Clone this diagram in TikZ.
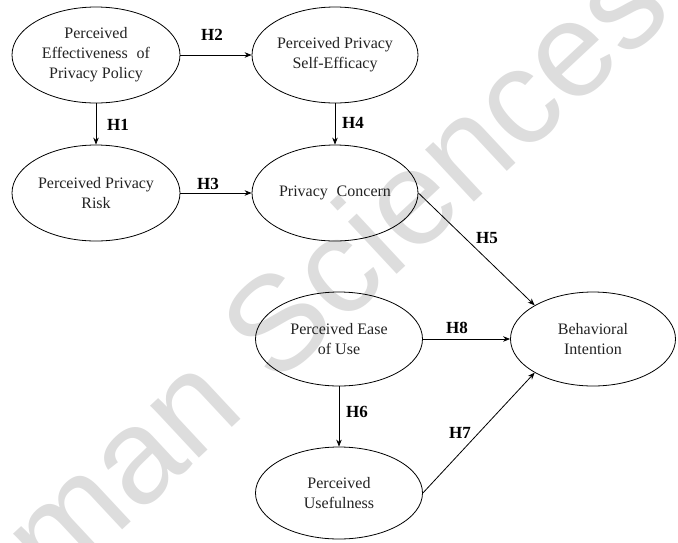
\documentclass[tikz,border=0pt]{standalone}
\usepackage{fontspec}
\setmainfont{Liberation Serif}
\newfontfamily\wmfont{Liberation Sans}
\usetikzlibrary{shapes.geometric,arrows.meta}
\definecolor{wmgray}{HTML}{DDDDDD}
\definecolor{txt}{HTML}{222222}
\tikzset{
  construct/.style={ellipse, draw=black, line width=0.8pt, inner sep=0pt,
    minimum width=167pt, minimum height=95pt, align=center, text=txt,
    font=\fontsize{16}{20}\selectfont},
  link/.style={line width=0.8pt, -{Stealth[length=7pt,width=5.5pt]}},
  hyp/.style={font=\fontsize{17}{17}\selectfont\bfseries, text=black, inner sep=0pt},
  watermark/.style={text=wmgray, font=\wmfont\fontsize{135}{135}\selectfont, inner sep=0pt}
}
\begin{document}
\begin{tikzpicture}[x=1pt,y=-1pt]
\useasboundingbox (0,0) rectangle (678,542);
\node[watermark, rotate=43] (wm) at (333,268) {man Sciences};

\node[construct, minimum width=168pt, minimum height=96pt] (peff) at (96,55) {Perceived\\Effectiveness\hspace{0.3em} of\\Privacy Policy};
\node[construct, minimum width=166pt, minimum height=96pt] (pse) at (335,55) {Perceived Privacy\\Self-Efficacy};
\node[construct, minimum width=168pt, minimum height=96pt] (risk) at (96,193) {Perceived Privacy\\Risk};
\node[construct, minimum width=166pt, minimum height=96pt] (pc) at (335,193) {Privacy\hspace{0.3em} Concern};
\node[construct, minimum height=94pt] (peou) at (339,339) {Perceived Ease\\of Use};
\node[construct, minimum width=165pt, minimum height=94pt] (bi) at (593,339) {Behavioral\\Intention};
\node[construct, minimum height=92pt] (pu) at (339,493) {Perceived\\Usefulness};

\draw[link] (peff.south) -- (risk.north);
\draw[link] (peff.east) -- (pse.west);
\draw[link] (risk.east) -- (pc.west);
\draw[link] (pse.south) -- (pc.north);
\draw[link] (pc.east) -- (bi.150);
\draw[link] (peou.south) -- (pu.north);
\draw[link] (pu.east) -- (bi.210);
\draw[link] (peou.east) -- (bi.west);

\node[hyp] (h1) at (118,125) {H1};
\node[hyp] (h2) at (212,35) {H2};
\node[hyp] (h3) at (208,184) {H3};
\node[hyp] (h4) at (353,123) {H4};
\node[hyp] (h5) at (487,238) {H5};
\node[hyp] (h6) at (357,412) {H6};
\node[hyp] (h7) at (460,433) {H7};
\node[hyp] (h8) at (457,328) {H8};
\end{tikzpicture}
\end{document}
